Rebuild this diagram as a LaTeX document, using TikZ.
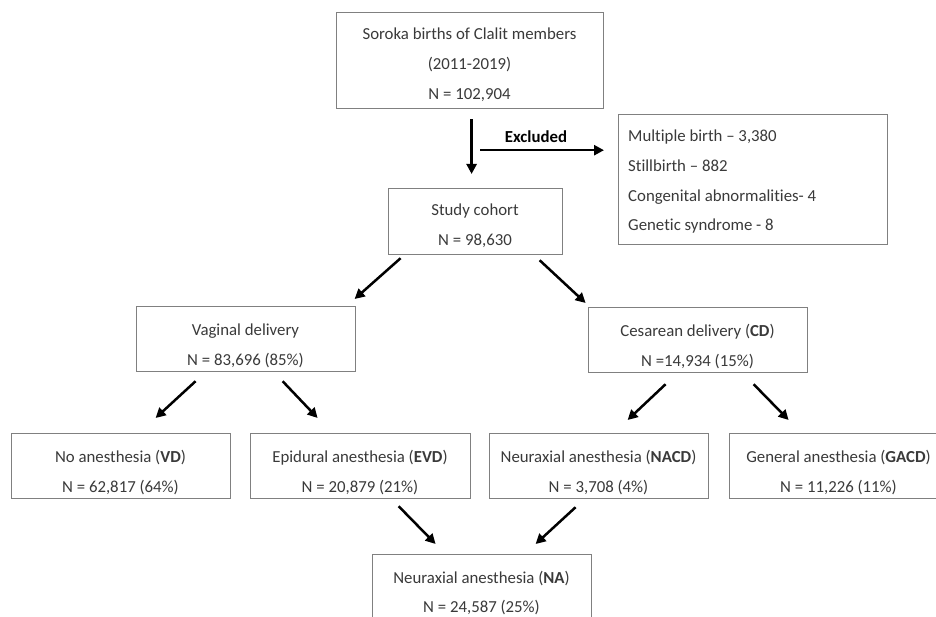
\documentclass[tikz,border=0pt]{standalone}
\usepackage{fontspec}
\setmainfont{Carlito}[Ligatures={NoCommon,NoContextual}]
\usetikzlibrary{arrows.meta}
\definecolor{boxgray}{HTML}{808080}
\definecolor{txtgray}{HTML}{3A3A3A}
\begin{document}
\begin{tikzpicture}[x=1pt,y=-1pt,
  box/.style={draw=boxgray,line width=1.2pt,fill=white,inner sep=0pt,anchor=north west},
  txt/.style={text=txtgray,font=\fontsize{16.8}{20}\selectfont,inner sep=0pt,anchor=base},
  ltxt/.style={txt,anchor=base west},
  arr/.style={line width=2.5pt,black,-{Triangle[length=10pt,width=10pt]}}]
\useasboundingbox (0,0) rectangle (936,617);
\fill[white] (0,0) rectangle (936,617);
% boxes
\node[box,minimum width=267pt,minimum height=96pt] (top) at (336,12) {};
\node[box,minimum width=174pt,minimum height=66pt] (sc) at (388,188) {};
\node[box,minimum width=269pt,minimum height=130pt] (exc) at (618,114) {};
\node[box,minimum width=219pt,minimum height=65pt] (vag) at (136,306) {};
\node[box,minimum width=219pt,minimum height=65pt] (ces) at (588,307) {};
\node[box,minimum width=219pt,minimum height=65pt] (vd) at (11,433) {};
\node[box,minimum width=220pt,minimum height=65pt] (evd) at (250,433) {};
\node[box,minimum width=219pt,minimum height=65pt] (nacd) at (489,433) {};
\node[box,minimum width=219pt,minimum height=65pt] (gacd) at (729,433) {};
\node[box,minimum width=219pt,minimum height=65pt] (na) at (372,554) {};
% texts
\node[txt] (top1) at (469.5,40) {Soroka births of Clalit members};
\node[txt] (top2) at (469.5,70) {(2011-2019)};
\node[txt] (top3) at (469.5,100) {N = 102,904};
\node[txt] (sc1) at (475,216) {Study cohort};
\node[txt] (sc2) at (475,246) {N = 98,630};
\node[ltxt] (exc1) at (628,142) {Multiple birth – 3,380};
\node[ltxt] (exc2) at (628,172) {Stillbirth – 882};
\node[ltxt] (exc3) at (628,202) {Congenital abnormalities- 4};
\node[ltxt] (exc4) at (628,231) {Genetic syndrome - 8};
\node[txt] (vag1) at (245.5,335) {Vaginal delivery};
\node[txt] (vag2) at (245.5,365) {N = 83,696 (85\%)};
\node[txt] (ces1) at (697.5,336) {Cesarean delivery (\textbf{CD})};
\node[txt] (ces2) at (697.5,366) {N =14,934 (15\%)};
\node[txt] (vd1) at (120.5,462) {No anesthesia (\textbf{VD})};
\node[txt] (vd2) at (120.5,492) {N = 62,817 (64\%)};
\node[txt] (evd1) at (360,462) {Epidural anesthesia (\textbf{EVD})};
\node[txt] (evd2) at (360,492) {N = 20,879 (21\%)};
\node[txt] (nacd1) at (598.5,462) {Neuraxial anesthesia (\textbf{NACD})};
\node[txt] (nacd2) at (598.5,492) {N = 3,708 (4\%)};
\node[txt] (gacd1) at (838.5,462) {General anesthesia (\textbf{GACD})};
\node[txt] (gacd2) at (838.5,492) {N = 11,226 (11\%)};
\node[txt] (na1) at (481.5,583) {Neuraxial anesthesia (\textbf{NA})};
\node[txt] (na2) at (481.5,612) {N = 24,587 (25\%)};
\node[txt,text=black,font=\fontsize{16.8}{20}\selectfont\bfseries] (exlab) at (536,143) {Excluded};
% connectors
\coordinate (exstart) at ([shift={(10,41)}]top.south);
\draw[arr] ([shift={(1.5,10)}]top.south) -- ([shift={(-4,-14)}]sc.north);
\draw[arr] ([shift={(-138,0)}]exc.west |- exstart) -- ([shift={(-14,0)}]exc.west |- exstart);
\draw[arr] ([shift={(-75,3)}]sc.south) -- ([shift={(108.5,-7)}]vag.north);
\draw[arr] ([shift={(64,5)}]sc.south) -- ([shift={(-112.5,-4)}]ces.north);
\draw[arr] ([shift={(-50.5,9)}]vag.south) -- ([shift={(34.5,-15)}]vd.north);
\draw[arr] ([shift={(36.5,9)}]vag.south) -- ([shift={(-43,-15)}]evd.north);
\draw[arr] ([shift={(-32.5,11)}]ces.south) -- ([shift={(28.5,-13)}]nacd.north);
\draw[arr] ([shift={(55.5,11)}]ces.south) -- ([shift={(-50.5,-13)}]gacd.north);
\draw[arr] ([shift={(38,7)}]evd.south) -- ([shift={(-46.5,-10)}]na.north);
\draw[arr] ([shift={(-23.5,8)}]nacd.south) -- ([shift={(53.5,-10)}]na.north);
\end{tikzpicture}
\end{document}
